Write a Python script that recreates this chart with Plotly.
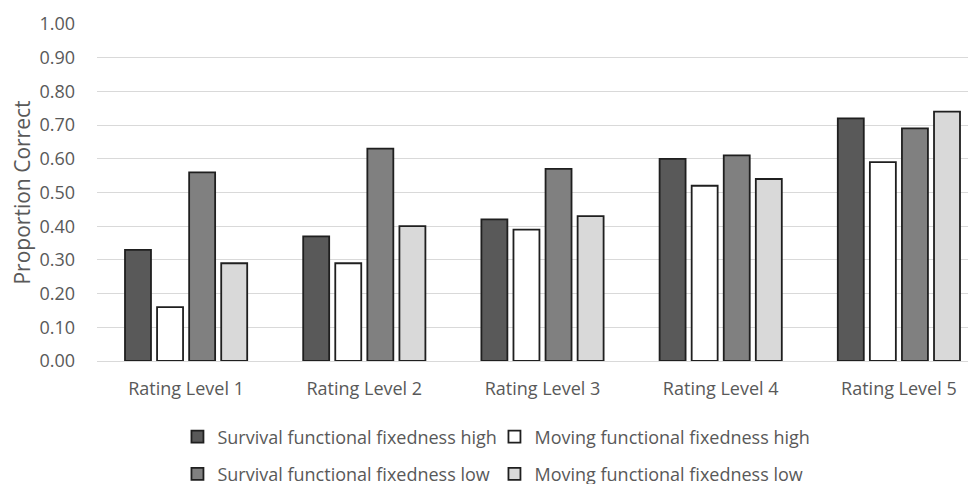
import plotly.graph_objects as go

categories = ["Rating Level 1", "Rating Level 2", "Rating Level 3", "Rating Level 4", "Rating Level 5"]
survival_high = [0.33, 0.37, 0.42, 0.60, 0.72]
moving_high = [0.16, 0.29, 0.39, 0.52, 0.59]
survival_low = [0.56, 0.63, 0.57, 0.61, 0.69]
moving_low = [0.29, 0.40, 0.43, 0.54, 0.74]
series_names = ["Survival functional fixedness high", "Moving functional fixedness high",
                "Survival functional fixedness low", "Moving functional fixedness low"]
y_ticks = [0.0, 0.1, 0.2, 0.3, 0.4, 0.5, 0.6, 0.7, 0.8, 0.9, 1.0]

series = [survival_high, moving_high, survival_low, moving_low]
colors = ["#595959", "#ffffff", "#808080", "#d9d9d9"]
legends = ["legend", "legend", "legend2", "legend2"]

fig = go.Figure()
for name, vals, col, lg in zip(series_names, series, colors, legends):
    fig.add_trace(go.Bar(
        x=categories, y=vals, name=name, legend=lg,
        marker=dict(color=col, line=dict(color="#1f1f1f", width=1.8)),
    ))

font = "Open Sans"
legend_common = dict(
    orientation="h", xref="paper", x=0.0903, xanchor="left",
    yref="container", yanchor="middle",
    font=dict(family=font, size=18, color="#595959"),
    itemwidth=30, entrywidth=272, traceorder="normal", tracegroupgap=0,
    itemclick=False, bgcolor="rgba(0,0,0,0)",
)
fig.update_layout(
    width=990, height=484,
    barmode="group", bargap=0.28, bargroupgap=0.19,
    plot_bgcolor="white", paper_bgcolor="white",
    margin=dict(l=89, r=10, t=16, b=131),
    font=dict(family=font, color="#595959", size=18),
    yaxis=dict(
        range=[0, 1.0], tickvals=y_ticks, tickformat=".2f",
        showgrid=True, gridcolor="#d9d9d9", gridwidth=1,
        zeroline=False, showline=False, ticks="",
        ticklabelstandoff=21, automargin=False,
        tickfont=dict(family=font, size=18, color="#595959"),
        title=dict(text="Proportion Correct", font=dict(family=font, size=21, color="#595959"), standoff=6),
    ),
    xaxis=dict(
        showline=True, linecolor="#d9d9d9", linewidth=1, ticks="", automargin=False,
        ticklabelstandoff=11,
        tickfont=dict(family=font, size=18, color="#595959"),
    ),
    legend=dict(legend_common, y=0.1136),
    legend2=dict(legend_common, y=0.037),
    showlegend=True,
)

fig.write_html("out.html")
